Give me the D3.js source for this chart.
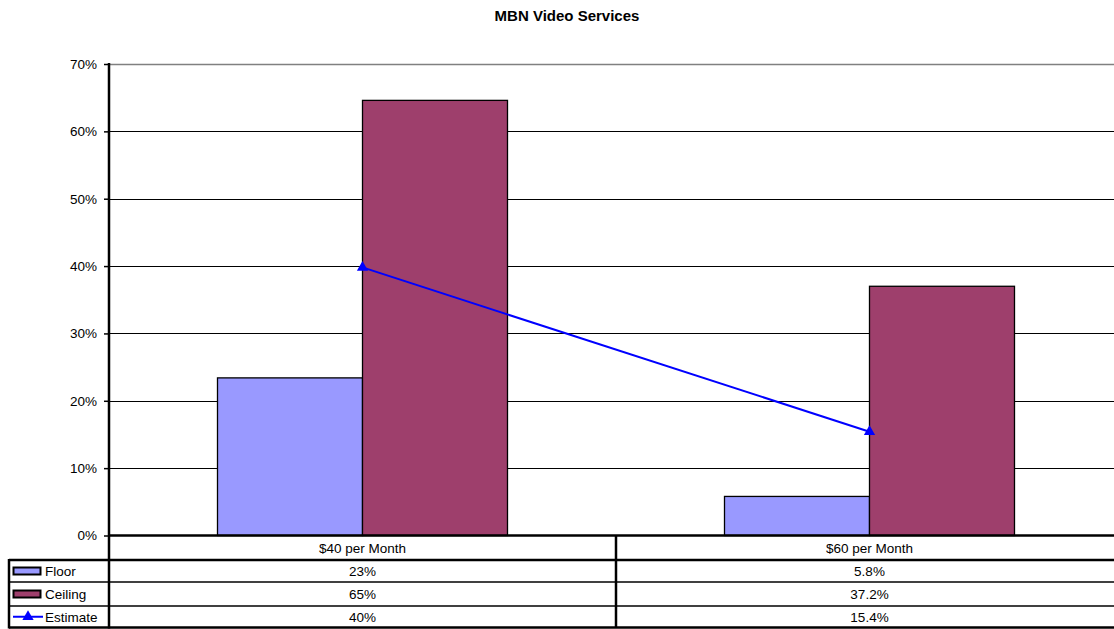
<!DOCTYPE html>
<html><head><meta charset="utf-8">
<script src="https://cdn.jsdelivr.net/npm/d3@7"></script>
<style>
html,body{margin:0;padding:0;background:#fff;}
svg{display:block;font-family:"Liberation Sans",Arial,sans-serif;}
</style></head>
<body>
<svg id="chart" width="1114" height="629"></svg>
<script>
const title = "MBN Video Services";
const categories = ["$40 per Month", "$60 per Month"];
const seriesNames = ["Floor", "Ceiling", "Estimate"];
const floorValues = [0.234, 0.058];
const ceilingValues = [0.646, 0.370];
const estimateValues = [0.398, 0.154];
const floorLabels = ["23%", "5.8%"];
const ceilingLabels = ["65%", "37.2%"];
const estimateLabels = ["40%", "15.4%"];
const yTicks = [0, 0.1, 0.2, 0.3, 0.4, 0.5, 0.6, 0.7];

(function () {
const colors = {Floor: "#9999FF", Ceiling: "#9E3F6C", Estimate: "#0000FF"};
const svg = d3.select("#chart");
const fs = 13.5;

const pLeft = 109, pRight = 1123, pTop = 64, pBottom = 535.5;
const y = d3.scaleLinear().domain([0, 0.7]).range([pBottom, pTop]);
const x = d3.scaleBand().domain(categories).range([pLeft, pRight]).padding(0);
const bw = x.bandwidth();
const barGroup = 290;
const x1 = d3.scaleBand().domain(["Floor", "Ceiling"]).range([(bw - barGroup) / 2, (bw + barGroup) / 2]).padding(0);

// title
svg.append("text").attr("x", 567).attr("y", 21).attr("text-anchor", "middle")
  .attr("font-weight", "bold").attr("font-size", 15).text(title);

// gridlines
svg.append("g").selectAll("line").data(yTicks.filter(d => d > 0)).join("line")
  .attr("x1", pLeft).attr("x2", pRight)
  .attr("y1", d => Math.round(y(d)) + 0.5).attr("y2", d => Math.round(y(d)) + 0.5)
  .attr("stroke", d => d === 0.7 ? "#808080" : "#000")
  .attr("stroke-width", d => d === 0.7 ? 1.5 : 1);

// bars
const bars = [
  {name: "Floor", values: floorValues},
  {name: "Ceiling", values: ceilingValues}
];
bars.forEach(s => {
  svg.append("g").selectAll("rect").data(categories).join("rect")
    .attr("x", (c) => x(c) + x1(s.name))
    .attr("y", (c, i) => y(s.values[i]))
    .attr("width", x1.bandwidth())
    .attr("height", (c, i) => y(0) - y(s.values[i]))
    .attr("fill", colors[s.name])
    .attr("stroke", "#000").attr("stroke-width", 1.3);
});

// estimate line
const cx = c => x(c) + bw / 2;
svg.append("path")
  .datum(categories)
  .attr("d", d3.line().x(c => cx(c)).y((c, i) => y(estimateValues[i])))
  .attr("fill", "none").attr("stroke", colors.Estimate).attr("stroke-width", 2);
const tri = d3.symbol().type(d3.symbolTriangle).size(55);
svg.append("g").selectAll("path").data(categories).join("path")
  .attr("d", tri)
  .attr("transform", (c, i) => `translate(${cx(c)},${y(estimateValues[i])})`)
  .attr("fill", colors.Estimate);

// y axis
const yAxis = d3.axisLeft(y).tickValues(yTicks).tickFormat(d3.format(".0%")).tickSize(5).tickPadding(7);
const ga = svg.append("g").attr("transform", `translate(${pLeft},0)`).call(yAxis);
ga.select(".domain").remove();
ga.selectAll(".tick line").attr("stroke", "#000").attr("stroke-width", 1.5);
ga.selectAll(".tick text").attr("font-size", fs).attr("font-family", "Liberation Sans, Arial, sans-serif").attr("fill", "#000");

// data table
const rowY = [536, 560, 582, 606, 627.5];
const tableLeft = 9;
const g = svg.append("g");
g.selectAll("text.hdr").data(categories).join("text").attr("class", "hdr")
  .attr("x", c => cx(c)).attr("y", (rowY[0] + rowY[1]) / 2 + 5).attr("text-anchor", "middle")
  .attr("font-size", fs).text(c => c);
const rows = [floorLabels, ceilingLabels, estimateLabels];
rows.forEach((labels, r) => {
  g.selectAll(null).data(categories).join("text")
    .attr("x", c => cx(c)).attr("y", (rowY[r + 1] + rowY[r + 2]) / 2 + 5).attr("text-anchor", "middle")
    .attr("font-size", fs).text((c, i) => labels[i]);
  g.append("text").attr("x", 45).attr("y", (rowY[r + 1] + rowY[r + 2]) / 2 + 5)
    .attr("font-size", fs).text(seriesNames[r]);
});
[0, 1].forEach(r => {
  const my = (rowY[r + 1] + rowY[r + 2]) / 2;
  g.append("rect").attr("x", 13.5).attr("y", my - 3.5).attr("width", 27).attr("height", 7)
    .attr("fill", colors[seriesNames[r]]).attr("stroke", "#000").attr("stroke-width", 2);
});
{
  const my = (rowY[3] + rowY[4]) / 2;
  g.append("line").attr("x1", 13).attr("x2", 43).attr("y1", my).attr("y2", my)
    .attr("stroke", colors.Estimate).attr("stroke-width", 2);
  g.append("path").attr("d", tri).attr("transform", `translate(28,${my})`).attr("fill", colors.Estimate);
}
const hl = (yy, x0, w) => g.append("line").attr("x1", x0).attr("x2", pRight).attr("y1", yy).attr("y2", yy).attr("stroke", "#000").attr("stroke-width", w);
hl(rowY[1], tableLeft, 2.5);
hl(rowY[2], tableLeft, 1.3);
hl(rowY[3], tableLeft, 1.3);
hl(rowY[4], tableLeft, 2.5);
const vl = (xx, y0, y1, w) => g.append("line").attr("x1", xx).attr("x2", xx).attr("y1", y0).attr("y2", y1).attr("stroke", "#000").attr("stroke-width", w);
vl(tableLeft, rowY[1] - 1, rowY[4] + 1, 2.5);
vl(x(categories[1]), rowY[0], rowY[4], 2.5);
vl(pLeft, pTop - 1, rowY[4] + 1, 2.5);
hl(pBottom, pLeft, 2.5);
})();
</script>
</body></html>
